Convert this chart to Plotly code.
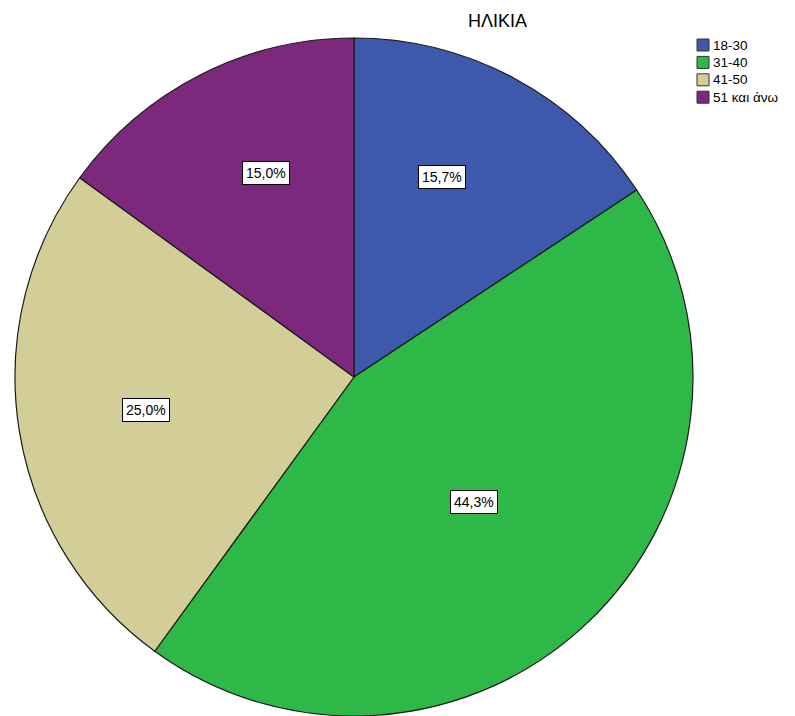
import math
import plotly.graph_objects as go

categories = ["18-30", "31-40", "41-50", "51 και άνω"]
percentages = [15.7, 44.3, 25.0, 15.0]
colors = ["#3E58AC", "#2EB848", "#D3CE97", "#7C287D"]
title_text = "ΗΛΙΚΙΑ"

W, H = 795, 716
cx, cy, R = 354, 377, 339  # pie centre and radius in pixels
label_radius = [0.645, 0.51, 0.62, 0.655]  # label distance from centre, fraction of radius
label_angle_frac = [0.42, 0.5, 0.5, 0.57]  # where in each slice the label sits
FONT = "Liberation Sans, Arial, sans-serif"

fig = go.Figure(go.Pie(
    labels=categories,
    values=percentages,
    sort=False,
    direction="clockwise",
    rotation=0,
    marker=dict(colors=colors, line=dict(color="#1a1a1a", width=1.2)),
    textinfo="none",
    hoverinfo="label+percent",
    showlegend=False,
    domain=dict(x=[(cx - R) / W, (cx + R) / W], y=[(H - cy - R) / H, (H - cy + R) / H]),
))

total = sum(percentages)
cum = 0.0
annotations = []
for v, lr, af in zip(percentages, label_radius, label_angle_frac):
    ang = (cum + v * af) / total * 2 * math.pi
    cum += v
    r = lr * R
    px = cx + r * math.sin(ang)
    py = cy - r * math.cos(ang)
    annotations.append(dict(
        x=px / W, y=(H - py) / H, xref="paper", yref="paper",
        xanchor="center", yanchor="middle",
        text=f"{v:.1f}%".replace(".", ","), showarrow=False,
        font=dict(family=FONT, size=14, color="black"),
        bgcolor="white", bordercolor="black", borderwidth=1, borderpad=3,
    ))

annotations.append(dict(
    x=497 / W, y=(H - 21) / H, xref="paper", yref="paper",
    xanchor="center", yanchor="middle",
    text=title_text, showarrow=False,
    font=dict(family=FONT, size=18, color="black"),
))

# manual legend (compact, like the original)
shapes = []
lx, ly0, dy, sq = 697, 45, 17.4, 12
for i, (cat, col) in enumerate(zip(categories, colors)):
    yc = ly0 + i * dy
    shapes.append(dict(
        type="rect", xref="paper", yref="paper",
        x0=lx / W, x1=(lx + sq) / W,
        y0=(H - yc - sq / 2) / H, y1=(H - yc + sq / 2) / H,
        fillcolor=col, line=dict(color="#333333", width=1),
    ))
    annotations.append(dict(
        x=(lx + sq + 2) / W, y=(H - yc) / H, xref="paper", yref="paper",
        xanchor="left", yanchor="middle", text=cat, showarrow=False,
        font=dict(family=FONT, size=13.5, color="black"),
    ))

fig.update_layout(
    width=W, height=H,
    margin=dict(l=0, r=0, t=0, b=0),
    paper_bgcolor="white",
    plot_bgcolor="white",
    annotations=annotations,
    shapes=shapes,
    showlegend=False,
)

fig.write_html(
    "out.html",
    config={"displayModeBar": False},
    post_script="document.body.style.margin='0';document.body.style.overflow='hidden';",
)
